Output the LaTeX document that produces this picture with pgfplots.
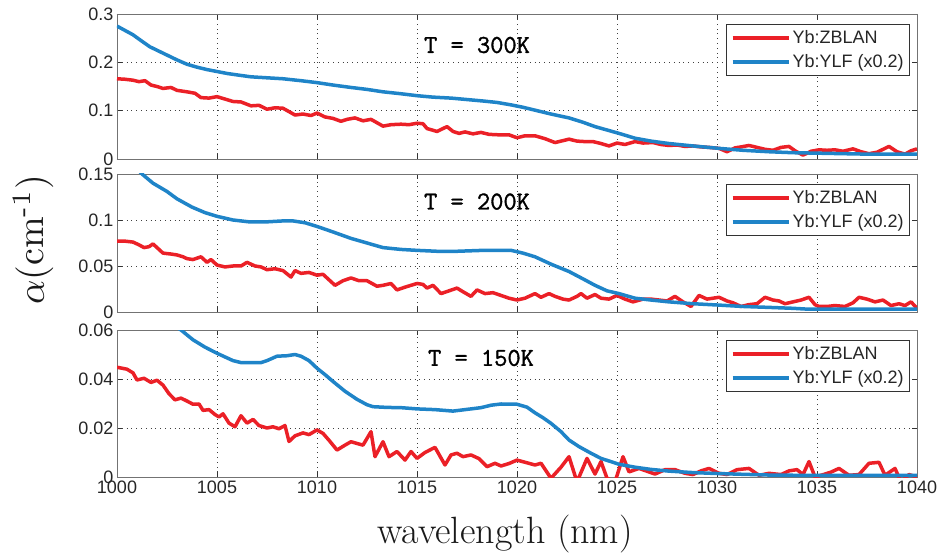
\documentclass[border=0pt]{standalone}
\usepackage{fontspec}
\setsansfont{Liberation Sans}
\newfontfamily\titlefont{Latin Modern Mono}[FakeBold=1.3]
\usepackage{graphicx}
\usepackage{pgfplots}
\pgfplotsset{compat=1.18}
\definecolor{cred}{RGB}{235,32,39}
\definecolor{cblue}{RGB}{31,132,200}
\pgfplotsset{
  panel/.style={
    scale only axis, width=800pt,
    xmin=1000, xmax=1040, ymin=0,
    xtick={1000,1005,...,1040},
    grid=major,
    grid style={black!75, line width=0.6pt, dash pattern=on 0.8pt off 4pt},
    axis line style={black!55, line width=0.8pt},
    tick style={black!80, line width=0.7pt},
    major tick length=5pt,
    tick align=inside,
    scaled y ticks=false,
    /pgf/number format/assume math mode=true,
    ticklabel style={font=\sffamily\fontsize{18}{18}\selectfont, text=black!85},
    legend style={at={(rel axis cs:1,1)}, anchor=north east, xshift=-7pt, yshift=-10pt,
      font=\sffamily\fontsize{18}{18}\selectfont, draw=black!80, line width=0.8pt,
      inner xsep=4pt, inner ysep=4pt, row sep=6pt, text=black!85},
    legend cell align=left,
    legend image code/.code={\draw[#1,line width=4pt] (0pt,0pt) -- (56pt,0pt);},
    every axis plot/.append style={line width=3.5pt, line join=round, mark=none},
  }
}
\begin{document}
\begin{tikzpicture}
\path[use as bounding box] (-117pt,-77pt) rectangle (827pt,477pt);
% ---------------- Panel 1: T = 300K
\begin{axis}[panel, at={(0pt,318pt)}, anchor=south west, height=145pt,
  ymax=0.3, ytick={0,0.1,0.2,0.3}, yticklabels={0,0.1,0.2,0.3}, xticklabels={}]
\addplot[cred] table {
1000 0.166
1000.4 0.165
1000.8 0.163
1001.1 0.160
1001.4 0.162
1001.7 0.153
1002 0.150
1002.3 0.146
1002.7 0.148
1003 0.142
1003.5 0.139
1003.9 0.136
1004.2 0.127
1004.6 0.126
1005 0.129
1005.4 0.124
1005.8 0.119
1006.2 0.118
1006.7 0.110
1007.1 0.111
1007.5 0.103
1007.9 0.106
1008.3 0.105
1008.6 0.098
1008.9 0.091
1009.3 0.093
1009.7 0.090
1010 0.095
1010.4 0.087
1010.8 0.084
1011.2 0.078
1011.5 0.082
1011.9 0.085
1012.3 0.079
1012.7 0.082
1013 0.075
1013.3 0.068
1013.7 0.071
1014.2 0.072
1014.6 0.071
1015 0.074
1015.3 0.073
1015.5 0.063
1016 0.057
1016.5 0.067
1016.8 0.057
1017.1 0.053
1017.4 0.056
1017.8 0.052
1018.2 0.055
1018.6 0.051
1019.1 0.050
1019.6 0.050
1020 0.044
1020.4 0.048
1020.9 0.048
1021.4 0.042
1021.9 0.034
1022.3 0.038
1022.6 0.041
1023 0.037
1023.4 0.036
1023.8 0.036
1024.2 0.032
1024.6 0.027
1025 0.033
1025.4 0.030
1025.9 0.036
1026.3 0.033
1026.8 0.034
1027.2 0.030
1027.6 0.028
1028 0.029
1028.4 0.026
1028.8 0.027
1029.2 0.025
1029.6 0.024
1030.1 0.022
1030.5 0.015
1030.9 0.023
1031.2 0.025
1031.6 0.028
1032 0.024
1032.4 0.020
1032.8 0.018
1033.2 0.024
1033.6 0.026
1033.9 0.017
1034.3 0.008
1034.7 0.016
1035.1 0.019
1035.5 0.018
1035.9 0.019
1036.3 0.016
1036.8 0.021
1037.2 0.015
1037.6 0.011
1038 0.014
1038.3 0.020
1038.6 0.026
1039 0.015
1039.4 0.010
1039.7 0.017
1040 0.021
};
\addplot[cblue] table {
1000 0.275
1000.4 0.266
1000.8 0.257
1001.2 0.245
1001.65 0.232
1002 0.225
1002.5 0.215
1003 0.205
1003.5 0.196
1004 0.190
1004.5 0.185
1005 0.181
1005.5 0.177
1006 0.174
1006.7 0.170
1007.5 0.168
1008.3 0.166
1009.2 0.162
1010 0.158
1010.8 0.153
1011.7 0.148
1012.5 0.144
1013.3 0.139
1014.2 0.135
1015 0.131
1015.8 0.128
1016.7 0.126
1017.5 0.123
1018.3 0.120
1019 0.117
1019.7 0.112
1020.3 0.107
1020.9 0.101
1021.7 0.093
1022.6 0.085
1023.3 0.076
1023.9 0.067
1024.5 0.060
1025.1 0.053
1025.9 0.043
1026.7 0.037
1027.6 0.032
1028.8 0.027
1030.1 0.022
1031.3 0.018
1032.6 0.015
1033.8 0.013
1035.1 0.012
1036.3 0.011
1037.6 0.010
1038.8 0.010
1040 0.010
};
\legend{Yb:ZBLAN, Yb:YLF (x0.2)}
\node[font=\titlefont\fontsize{25.7}{26}\selectfont] at (rel axis cs:0.45,0.786) {T = 300K};
\end{axis}
% ---------------- Panel 2: T = 200K
\begin{axis}[panel, at={(0pt,165pt)}, anchor=south west, height=138pt,
  ymax=0.15, ytick={0,0.05,0.1,0.15}, yticklabels={0,0.05,0.1,0.15}, xticklabels={}]
\addplot[cred] table {
1000 0.077
1000.4 0.077
1000.8 0.076
1001.1 0.073
1001.35 0.070
1001.6 0.071
1001.8 0.074
1002.1 0.068
1002.3 0.064
1002.7 0.063
1003 0.062
1003.3 0.060
1003.5 0.058
1003.8 0.057
1004.2 0.060
1004.5 0.054
1004.7 0.057
1005 0.051
1005.4 0.049
1005.8 0.050
1006.2 0.050
1006.5 0.054
1006.9 0.050
1007.2 0.049
1007.5 0.046
1007.9 0.047
1008.3 0.045
1008.7 0.038
1008.9 0.045
1009.2 0.042
1009.6 0.043
1010 0.040
1010.3 0.041
1010.6 0.035
1010.9 0.029
1011.3 0.034
1011.7 0.037
1012.1 0.034
1012.5 0.034
1013 0.028
1013.3 0.029
1013.7 0.031
1014 0.024
1014.4 0.027
1014.7 0.029
1015 0.031
1015.3 0.030
1015.5 0.026
1015.8 0.029
1016.2 0.020
1016.6 0.023
1017 0.026
1017.3 0.022
1017.7 0.017
1018 0.024
1018.4 0.020
1018.8 0.021
1019.2 0.018
1019.6 0.015
1020 0.013
1020.4 0.015
1020.9 0.020
1021.2 0.016
1021.6 0.020
1021.9 0.017
1022.3 0.014
1022.6 0.013
1023 0.017
1023.2 0.020
1023.5 0.015
1023.9 0.019
1024.2 0.015
1024.6 0.014
1025 0.018
1025.4 0.014
1025.8 0.011
1026.3 0.014
1026.7 0.014
1027.1 0.013
1027.5 0.012
1027.9 0.017
1028.3 0.011
1028.7 0.006
1029.1 0.018
1029.5 0.014
1030.1 0.016
1030.5 0.012
1030.8 0.010
1031.2 0.006
1031.6 0.008
1032 0.009
1032.4 0.016
1032.8 0.013
1033.1 0.012
1033.4 0.009
1033.8 0.011
1034.2 0.013
1034.6 0.016
1034.9 0.008
1035.1 0.006
1035.5 0.006
1035.9 0.007
1036.4 0.006
1036.8 0.010
1037.1 0.016
1037.5 0.014
1037.9 0.011
1038.3 0.013
1038.7 0.007
1039.1 0.009
1039.4 0.007
1039.7 0.011
1040 0.004
};
\addplot[cblue] table {
1000 0.185
1000.5 0.170
1001 0.156
1001.25 0.150
1001.8 0.140
1002.5 0.131
1003 0.123
1003.75 0.114
1004.4 0.108
1005 0.104
1005.8 0.100
1006.6 0.098
1007.5 0.098
1008.3 0.099
1008.8 0.099
1009.4 0.097
1010 0.093
1010.8 0.087
1011.7 0.080
1012.5 0.075
1013.3 0.070
1014.2 0.068
1015 0.067
1016 0.066
1017 0.066
1018.3 0.067
1019.7 0.067
1020.3 0.064
1020.9 0.060
1021.7 0.052
1022.6 0.044
1023.3 0.036
1023.9 0.029
1024.5 0.023
1025.1 0.020
1025.9 0.015
1026.7 0.013
1027.6 0.011
1028.8 0.009
1030.1 0.0075
1031.3 0.006
1032.6 0.005
1033.8 0.004
1034.6 0.003
1036 0.003
1037.6 0.003
1040 0.003
};
\legend{Yb:ZBLAN, Yb:YLF (x0.2)}
\node[font=\titlefont\fontsize{25.7}{26}\selectfont] at (rel axis cs:0.45,0.80) {T = 200K};
\end{axis}
% ---------------- Panel 3: T = 150K
\begin{axis}[panel, at={(0pt,0pt)}, anchor=south west, height=147pt,
  ymax=0.06, ytick={0,0.02,0.04,0.06}, yticklabels={0,0.02,0.04,0.06},
  xticklabels={1000,1005,1010,1015,1020,1025,1030,1035,1040}]
\addplot[cred] table {
1000 0.0448
1000.5 0.044
1000.8 0.0425
1001 0.0396
1001.35 0.0403
1001.7 0.0386
1002 0.0395
1002.3 0.0375
1002.6 0.034
1002.9 0.0315
1003.2 0.0322
1003.5 0.031
1003.8 0.0297
1004.1 0.0298
1004.3 0.0272
1004.6 0.0275
1004.9 0.0255
1005.1 0.0245
1005.3 0.0258
1005.6 0.022
1005.9 0.0205
1006.2 0.025
1006.5 0.022
1006.8 0.0235
1007.1 0.021
1007.5 0.020
1007.8 0.0205
1008.1 0.0197
1008.4 0.021
1008.6 0.0145
1008.9 0.0168
1009.3 0.018
1009.6 0.0173
1010 0.0192
1010.3 0.0178
1010.6 0.015
1011 0.011
1011.4 0.013
1011.7 0.0144
1012.3 0.013
1012.7 0.0185
1012.9 0.0083
1013.3 0.0144
1013.6 0.0083
1014 0.0104
1014.4 0.0069
1014.7 0.0104
1015 0.0076
1015.4 0.010
1015.9 0.0121
1016.4 0.0049
1016.7 0.009
1017 0.0097
1017.3 0.0083
1017.7 0.009
1018.1 0.0075
1018.5 0.0042
1018.9 0.0056
1019.2 0.0045
1019.6 0.0055
1020 0.0069
1020.5 0.0058
1020.9 0.0049
1021.2 0.0056
1021.7 -0.0005
1022.2 0.0040
1022.6 0.0083
1023 -0.002
1023.5 0.0076
1023.9 0.0012
1024.2 0.0063
1024.5 -0.0005
1024.9 -0.002
1025.3 0.0083
1025.6 0.0021
1026.1 0.0035
1026.9 0.0012
1027.4 0.0030
1027.9 0.0030
1028.4 0.0015
1028.8 0.0010
1029.2 0.0025
1029.6 0.0035
1030.1 0.0015
1030.5 0.0010
1031 0.0030
1031.6 0.0035
1032.1 0.0007
1032.6 0.0015
1033.2 0.0010
1033.6 0.0025
1034 0.0030
1034.3 0.0010
1034.6 0.0063
1034.9 0.0000
1035.4 0.0012
1035.7 0.0020
1036.1 0.0035
1036.6 0.0007
1037.1 0.0010
1037.6 0.0056
1038.1 0.0060
1038.4 0.0007
1038.9 0.0035
1039.2 -0.002
1039.6 0.0010
1040 0.0000
};
\addplot[cblue] table {
1000 0.078
1001 0.072
1002 0.066
1002.8 0.062
1003.2 0.060
1003.8 0.056
1004.4 0.053
1005 0.0505
1005.4 0.049
1005.8 0.0475
1006.2 0.0467
1006.7 0.0467
1007.2 0.0467
1007.5 0.0475
1008 0.0493
1008.5 0.0495
1008.9 0.050
1009.2 0.0493
1009.6 0.0475
1010 0.0444
1010.4 0.0418
1010.8 0.039
1011.4 0.035
1012 0.0317
1012.5 0.0295
1012.8 0.0287
1013.5 0.0284
1014.2 0.0283
1015 0.0278
1015.9 0.0275
1016.8 0.0269
1017.5 0.0276
1018.2 0.0283
1018.7 0.0293
1019.2 0.0298
1020 0.0297
1020.5 0.0285
1020.9 0.0262
1021.3 0.0242
1021.7 0.0219
1022.2 0.0185
1022.6 0.0151
1023.1 0.0124
1023.7 0.0097
1024.2 0.0076
1025.1 0.0052
1025.9 0.0040
1026.7 0.0031
1027.6 0.0024
1028.8 0.0018
1030.1 0.0014
1031.3 0.0011
1032.6 0.0008
1034 0.0007
1036 0.0007
1038 0.0007
1040 0.0007
};
\legend{Yb:ZBLAN, Yb:YLF (x0.2)}
\node[font=\titlefont\fontsize{25.7}{26}\selectfont] at (rel axis cs:0.455,0.81) {T = 150K};
\end{axis}
% ---------------- axis labels
\node[rotate=90, text=black!90] at (-84pt,237pt) {\scalebox{3.8}{$\alpha(\mathrm{cm}^{\mbox{\fontsize{7}{7}\selectfont -1}})$}};
\node[anchor=base, font=\fontsize{38}{38}\selectfont, text=black!90] at (388pt,-66pt) {wavelength (nm)};
\end{tikzpicture}
\end{document}
